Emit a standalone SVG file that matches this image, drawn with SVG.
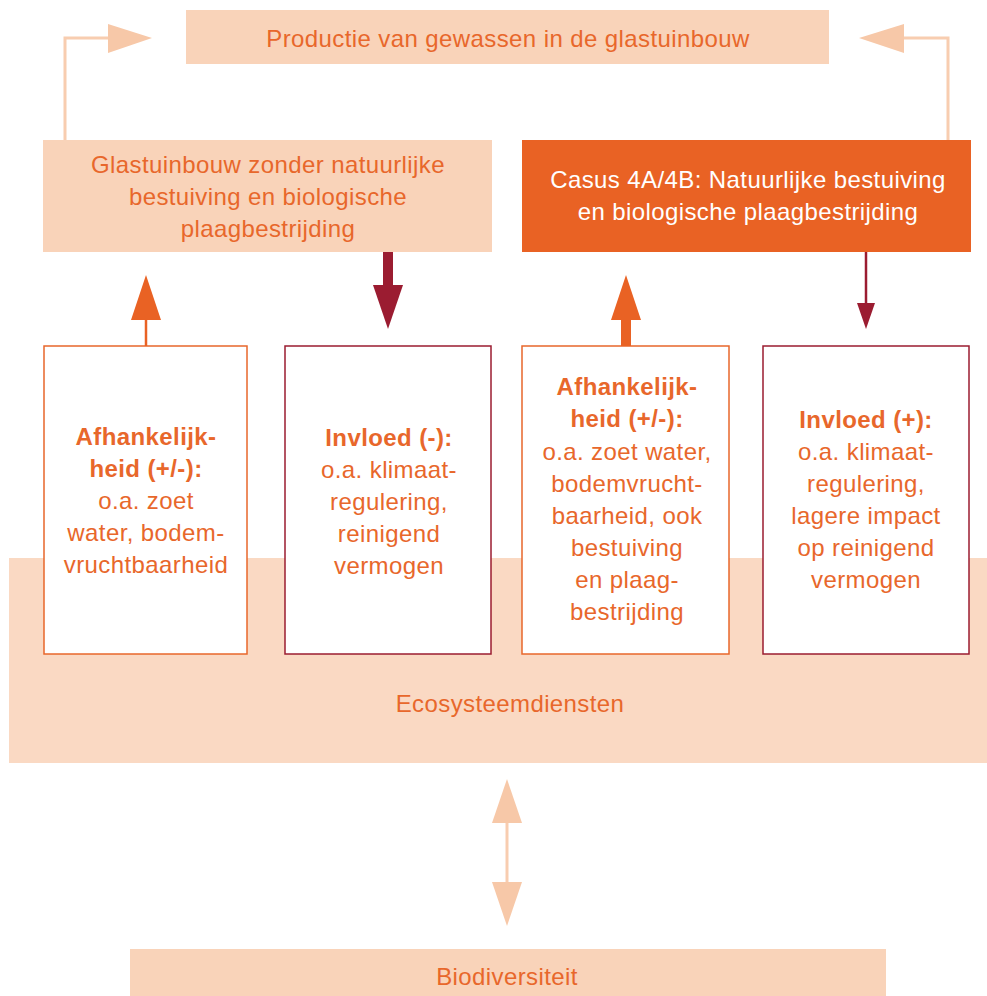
<svg xmlns="http://www.w3.org/2000/svg" width="987" height="996" viewBox="0 0 987 996">
<style>
text{font-family:"Liberation Sans",Arial,sans-serif;font-size:24px;fill:#E8672B;text-anchor:middle;letter-spacing:0.4px}
.b{font-weight:bold}
.w{fill:#FFFFFF}
.peach{fill:#F9D3B9}
.band{fill:#FAD9C3}
.boxo{fill:#FFFFFF;stroke:#E8672B;stroke-width:1.5}
.boxr{fill:#FFFFFF;stroke:#9B1C31;stroke-width:1.5}
.lt{fill:none;stroke:#F8CDB0;stroke-width:3}
.ltf{fill:#F7C8A8}
</style>
<g id="ecosysteemdiensten">
<rect class="band" x="9" y="558" width="978" height="205"/>
<text x="510" y="712">Ecosysteemdiensten</text>
</g>
<g id="productie">
<rect class="peach" x="186" y="10" width="643" height="54"/>
<text x="508" y="47">Productie van gewassen in de glastuinbouw</text>
</g>
<g id="zonder">
<rect class="peach" x="43" y="140" width="449" height="112"/>
<text x="268" y="173">Glastuinbouw zonder natuurlijke</text>
<text x="268" y="205">bestuiving en biologische</text>
<text x="268" y="237">plaagbestrijding</text>
</g>
<g id="casus">
<rect x="522" y="140" width="449" height="112" fill="#E96224"/>
<text class="w" x="748" y="188">Casus 4A/4B: Natuurlijke bestuiving</text>
<text class="w" x="748" y="220">en biologische plaagbestrijding</text>
</g>
<g id="afh1">
<rect class="boxo" x="44" y="346" width="203" height="308"/>
<text class="b" x="146" y="445">Afhankelijk-</text>
<text class="b" x="146" y="477">heid (+/-):</text>
<text x="146" y="509">o.a. zoet</text>
<text x="146" y="541">water, bodem-</text>
<text x="146" y="573">vruchtbaarheid</text>
</g>
<g id="invloed1">
<rect class="boxr" x="285" y="346" width="206" height="308"/>
<text class="b" x="389" y="446">Invloed (-):</text>
<text x="389" y="478">o.a. klimaat-</text>
<text x="389" y="510">regulering,</text>
<text x="389" y="542">reinigend</text>
<text x="389" y="574">vermogen</text>
</g>
<g id="afh2">
<rect class="boxo" x="522" y="346" width="207" height="308"/>
<text class="b" x="627" y="395">Afhankelijk-</text>
<text class="b" x="627" y="427">heid (+/-):</text>
<text x="627" y="460">o.a. zoet water,</text>
<text x="627" y="492">bodemvrucht-</text>
<text x="627" y="524">baarheid, ook</text>
<text x="627" y="556">bestuiving</text>
<text x="627" y="588">en plaag-</text>
<text x="627" y="620">bestrijding</text>
</g>
<g id="invloed2">
<rect class="boxr" x="763" y="346" width="206" height="308"/>
<text class="b" x="866" y="428">Invloed (+):</text>
<text x="866" y="460">o.a. klimaat-</text>
<text x="866" y="492">regulering,</text>
<text x="866" y="524">lagere impact</text>
<text x="866" y="556">op reinigend</text>
<text x="866" y="588">vermogen</text>
</g>
<g id="biodiversiteit">
<rect class="peach" x="130" y="949" width="756" height="47"/>
<text x="507" y="985">Biodiversiteit</text>
</g>
<g id="connectors">
<polyline class="lt" points="65,140 65,38 110,38"/>
<polygon class="ltf" points="108,24 152,38 108,53"/>
<polyline class="lt" points="948,140 948,38 902,38"/>
<polygon class="ltf" points="904,24 859,38 904,53"/>
<line x1="146" y1="346" x2="146" y2="318" stroke="#E96224" stroke-width="2.5"/>
<polygon points="131,320 146,275 161,320" fill="#E96224"/>
<rect x="383" y="252" width="10" height="34" fill="#9B1C31"/>
<polygon points="373,285 403,285 388,329" fill="#9B1C31"/>
<rect x="621" y="318" width="10" height="28" fill="#E96224"/>
<polygon points="611,320 626,275 641,320" fill="#E96224"/>
<line x1="866" y1="252" x2="866" y2="305" stroke="#9B1C31" stroke-width="2.5"/>
<polygon points="857,303 875,303 866,329" fill="#9B1C31"/>
<line x1="507" y1="820" x2="507" y2="885" stroke="#F8CDB0" stroke-width="3"/>
<polygon class="ltf" points="492,823 507,779 522,823"/>
<polygon class="ltf" points="492,882 522,882 507,926"/>
</g>
</svg>
